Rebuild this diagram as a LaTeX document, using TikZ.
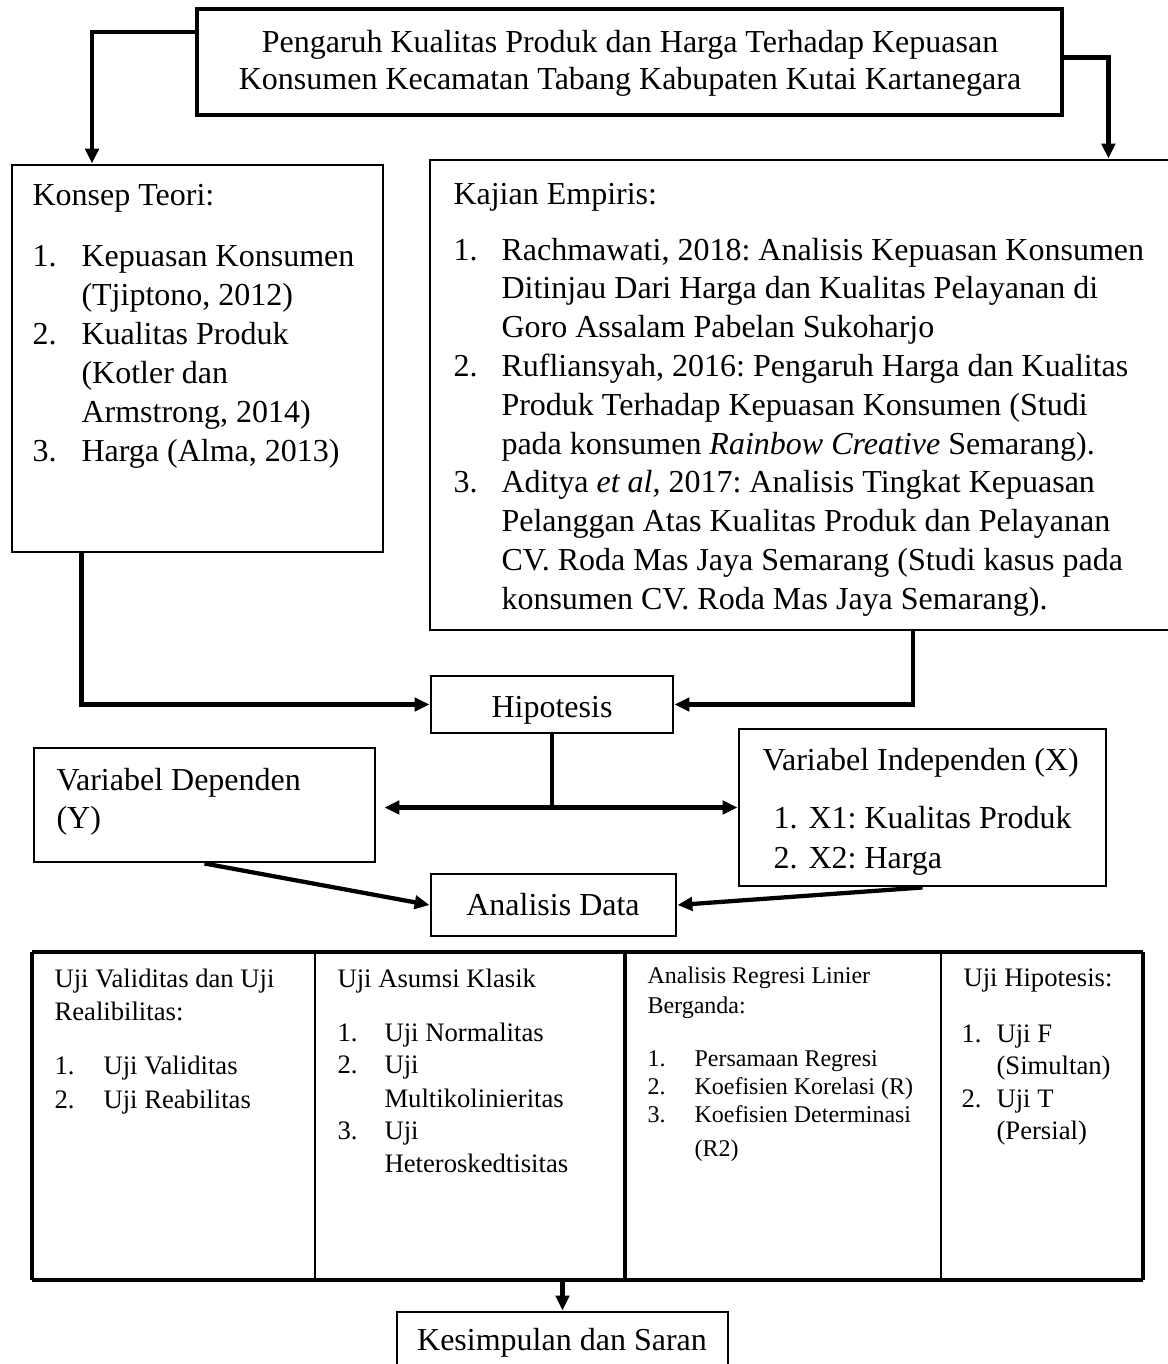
\documentclass[tikz,border=0pt]{standalone}
\usepackage{fontspec}
\setmainfont{Liberation Serif}
\usetikzlibrary{arrows.meta,calc,fit}
\frenchspacing
\begin{document}
\begin{tikzpicture}[x=0.375pt,y=-0.375pt,
  box/.style={draw,line width=1.1pt,inner sep=0pt},
  cell/.style={draw,line width=0.8pt,inner sep=0pt},
  conn/.style={line width=1.6pt,-{Triangle[length=5.6pt,width=5pt]}},
  plain/.style={line width=1.6pt},
  t/.style={inner sep=0pt,anchor=base west,font=\fontsize{12}{14}\selectfont},
  ts/.style={inner sep=0pt,anchor=base west,font=\fontsize{10}{12}\selectfont},
  tx/.style={inner sep=0pt,anchor=base west,font=\fontsize{9}{11}\selectfont},
  tc/.style={inner sep=0pt,anchor=base,font=\fontsize{12}{14}\selectfont},
]
\useasboundingbox (0,0) rectangle (1168,1364);

% ---------- boxes ----------
\node[box,line width=1.3pt,fit={(197,9)(1062,115)}] (title) {};
\node[box,fit={(12,165)(383,552)}] (konsep) {};
\node[box,fit={(430,160)(1180,630)}] (kajian) {};
\node[box,fit={(431,676)(673,733)}] (hipo) {};
\node[box,fit={(34,748)(375,862)}] (dep) {};
\node[box,fit={(739,729)(1106,886)}] (indep) {};
\node[box,fit={(431,874)(676,936)}] (anal) {};
\node[cell,fit={(33,953)(315,1279)}] (c1) {};
\node[cell,fit={(315,953)(624,1279)}] (c2) {};
\node[cell,fit={(624,953)(941,1279)}] (c3) {};
\node[cell,fit={(941,953)(1142,1279)}] (c4) {};
\draw[line width=1.5pt] (c1.north west) -- (c4.north east);
\draw[line width=1.5pt] (c1.south west) -- (c4.south east);
\draw[line width=1.1pt] (c1.north west) -- (c1.south west);
\draw[line width=1.1pt] (c4.north east) -- (c4.south east);
\draw[line width=1.1pt] (c2.north east) -- (c2.south east);
\node[box,fit={(397,1312)(728,1385)}] (kes) {};

% ---------- texts ----------
\node[tc] (ti1) at (630,52) {Pengaruh Kualitas Produk dan Harga Terhadap Kepuasan};
\node[tc] (ti2) at (630,89) {Konsumen Kecamatan Tabang Kabupaten Kutai Kartanegara};

\node[t] (k0) at (32,205) {Konsep Teori:};
\node[t] (k1n) at (32,266) {1.};
\node[t] (k1a) at (81,266) {Kepuasan Konsumen};
\node[t] (k1b) at (81,305) {(Tjiptono, 2012)};
\node[t] (k2n) at (32,344) {2.};
\node[t] (k2a) at (81,344) {Kualitas Produk};
\node[t] (k2b) at (81,383) {(Kotler dan};
\node[t] (k2c) at (81,422) {Armstrong, 2014)};
\node[t] (k3n) at (32,461) {3.};
\node[t] (k3a) at (81,461) {Harga (Alma, 2013)};

\node[t] (e0) at (453,204) {Kajian Empiris:};
\node[t] (e1n) at (453,260) {1.};
\node[t] (e1a) at (501,260) {Rachmawati, 2018: Analisis Kepuasan Konsumen};
\node[t] (e1b) at (501,298.8) {Ditinjau Dari Harga dan Kualitas Pelayanan di};
\node[t] (e1c) at (501,337.6) {Goro Assalam Pabelan Sukoharjo};
\node[t] (e2n) at (453,376.4) {2.};
\node[t] (e2a) at (501,376.4) {Rufliansyah, 2016: Pengaruh Harga dan Kualitas};
\node[t] (e2b) at (501,415.2) {Produk Terhadap Kepuasan Konsumen (Studi};
\node[t] (e2c) at (501,454) {pada konsumen \textit{Rainbow Creative} Semarang).};
\node[t] (e3n) at (453,492.8) {3.};
\node[t] (e3a) at (501,492.8) {Aditya \textit{et al}, 2017: Analisis Tingkat Kepuasan};
\node[t] (e3b) at (501,531.6) {Pelanggan Atas Kualitas Produk dan Pelayanan};
\node[t] (e3c) at (501,570.4) {CV. Roda Mas Jaya Semarang (Studi kasus pada};
\node[t] (e3d) at (501,609.2) {konsumen CV. Roda Mas Jaya Semarang).};

\node[tc] (hipot) at (552,717) {Hipotesis};
\node[t] (d1) at (56,790) {Variabel Dependen};
\node[t] (d2) at (56,828) {(Y)};
\node[t] (i0) at (762,770) {Variabel Independen (X)};
\node[t] (i1n) at (773,828) {1.};
\node[t] (i1a) at (808,828) {X1: Kualitas Produk};
\node[t] (i2n) at (773,868) {2.};
\node[t] (i2a) at (808,868) {X2: Harga};
\node[tc] (analt) at (553,915) {Analisis Data};

% column 1
\node[ts] (a1) at (54,987) {Uji Validitas dan Uji};
\node[ts] (a2) at (54,1020) {Realibilitas:};
\node[ts] (a3n) at (54,1074) {1.};
\node[ts] (a3) at (103,1074) {Uji Validitas};
\node[ts] (a4n) at (54,1108) {2.};
\node[ts] (a4) at (103,1108) {Uji Reabilitas};
% column 2
\node[ts] (b1) at (337,987) {Uji Asumsi Klasik};
\node[ts] (b2n) at (337,1041) {1.};
\node[ts] (b2) at (384,1041) {Uji Normalitas};
\node[ts] (b3n) at (337,1073) {2.};
\node[ts] (b3) at (384,1073) {Uji};
\node[ts] (b4) at (384,1107) {Multikolinieritas};
\node[ts] (b5n) at (337,1139) {3.};
\node[ts] (b5) at (384,1139) {Uji};
\node[ts] (b6) at (384,1172) {Heteroskedtisitas};
% column 3
\node[tx] (r1) at (647,983) {Analisis Regresi Linier};
\node[tx] (r2) at (647,1013) {Berganda:};
\node[tx] (r3n) at (647,1066) {1.};
\node[tx] (r3) at (694,1066) {Persamaan Regresi};
\node[tx] (r4n) at (647,1094) {2.};
\node[tx] (r4) at (694,1094) {Koefisien Korelasi (R)};
\node[tx] (r5n) at (647,1122) {3.};
\node[tx] (r5) at (694,1122) {Koefisien Determinasi};
\node[tx] (r6) at (694,1156) {(R2)};
% column 4
\node[ts] (h1) at (963,986) {Uji Hipotesis:};
\node[ts] (h2n) at (961,1042) {1.};
\node[ts] (h2) at (996,1042) {Uji F};
\node[ts] (h3) at (996,1074) {(Simultan)};
\node[ts] (h4n) at (961,1107) {2.};
\node[ts] (h4) at (996,1107) {Uji T};
\node[ts] (h5) at (996,1139) {(Persial)};

\node[tc] (kest) at (562,1350) {Kesimpulan dan Saran};

% ---------- connectors ----------
\draw[conn] ($(title.north west)!0.226!(title.south west)$) -| ($(konsep.north west)!0.218!(konsep.north east)$);
\draw[conn] ($(title.north east)!0.46!(title.south east)$) -| ($(kajian.north west)!0.903!(kajian.north east)$);
\draw[conn] ($(konsep.south west)!0.19!(konsep.south east)$) |- (hipo.west);
\draw[conn] ($(kajian.south west)!0.643!(kajian.south east)$) |- (hipo.east);
\coordinate (hj) at (hipo.south |- indep.west);
\draw[plain] (hipo.south) -- (hj);
\draw[conn] (hj) -- ([xshift=3pt]dep.east |- hj);
\draw[conn] (hj) -- (indep.west);
\draw[conn] (dep.south) -- (anal.west);
\draw[conn] (indep.south) -- (anal.east);
\draw[conn] (kes.north |- c2.south) -- (kes.north);
\end{tikzpicture}
\end{document}
